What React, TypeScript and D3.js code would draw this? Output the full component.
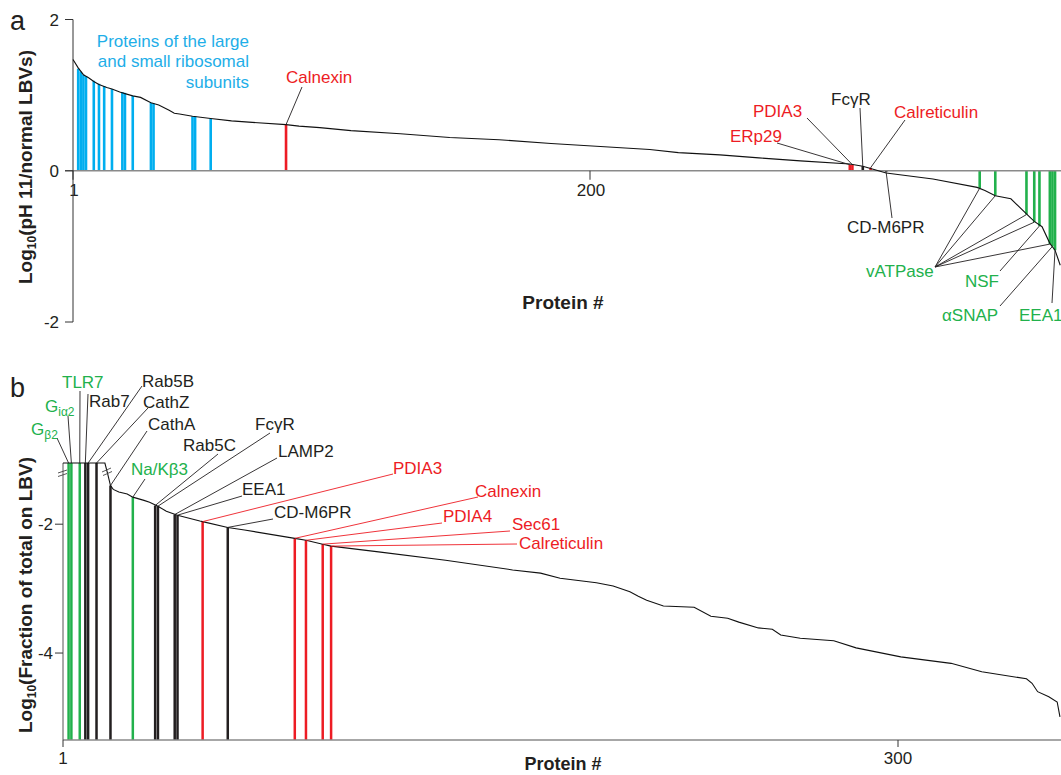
import React from "react";
import * as d3 from "d3";

// ---- panel a : log10(pH 11 / normal LBVs), proteins ranked ----
// [protein #, value]
const curveA: [number, number][] = [
  [1, 1.47], [3, 1.36], [5, 1.27], [7, 1.23], [9, 1.18], [11, 1.14], [14, 1.1],
  [16, 1.08], [19, 1.04], [21, 1.02], [24, 0.99], [27, 0.97], [31, 0.9], [34, 0.87],
  [38, 0.8], [40, 0.76], [42, 0.75], [47, 0.72], [54, 0.69], [62, 0.66], [70, 0.64],
  [83, 0.61], [88, 0.59], [96, 0.57], [108, 0.53], [127, 0.49], [146, 0.44],
  [165, 0.41], [185, 0.36], [204, 0.32], [223, 0.28], [234, 0.24], [250, 0.21],
  [265, 0.17], [281, 0.13], [300, 0.09], [305, 0.06], [309, 0.02], [314, -0.03],
  [332, -0.11], [349, -0.22], [352, -0.26], [356, -0.33], [362, -0.37], [368, -0.57],
  [371, -0.67], [374, -0.74], [377, -0.96], [379, -1.05], [381, -1.25],
];

const riboIdx = [3, 4, 5, 6, 9, 11, 13, 16, 20, 21, 24, 31, 32, 47, 48, 54];
const riboVal = [1.35, 1.31, 1.27, 1.25, 1.19, 1.15, 1.12, 1.08, 1.04, 1.03, 0.99, 0.9, 0.89, 0.72, 0.72, 0.69];

const markedA = [
  { name: "Calnexin", i: 83, v: 0.61, c: "red" },
  { name: "ERp29", i: 300, v: 0.08, c: "red" },
  { name: "PDIA3", i: 301, v: 0.08, c: "red" },
  { name: "FcγR", i: 305, v: 0.06, c: "black" },
  { name: "Calreticulin", i: 308, v: 0.04, c: "red" },
  { name: "CD-M6PR", i: 314, v: -0.02, c: "black" },
  { name: "vATPase", i: 350, v: -0.23, c: "green" },
  { name: "vATPase", i: 356, v: -0.33, c: "green" },
  { name: "vATPase", i: 368, v: -0.58, c: "green" },
  { name: "vATPase", i: 371, v: -0.68, c: "green" },
  { name: "NSF", i: 373, v: -0.73, c: "green" },
  { name: "vATPase", i: 377, v: -0.97, c: "green" },
  { name: "αSNAP", i: 378, v: -1.0, c: "green" },
  { name: "EEA1", i: 379, v: -1.05, c: "green" },
];

const yTicksA = [-2, 0, 2];
const xTicksA = [1, 200];

// ---- panel b : log10(fraction of total on LBV) ----
// first proteins are above the axis break (-1.05)
const curveB: [number, number][] = [
  [1, -1.05], [16, -1.05], [17, -1.22], [18, -1.4], [19, -1.46], [21, -1.5], [24, -1.53],
  [26, -1.58], [30, -1.63], [32, -1.66], [35, -1.72], [38, -1.8], [42, -1.86], [50, -1.95],
  [51, -1.96], [60, -2.05], [66, -2.09], [84, -2.22], [88, -2.25], [94, -2.31], [97, -2.34],
  [114, -2.43], [138, -2.56], [162, -2.71], [172, -2.76], [179, -2.84], [192, -2.91],
  [198, -2.96], [204, -3.05], [207, -3.12], [210, -3.18], [216, -3.27], [227, -3.29],
  [233, -3.43], [239, -3.46], [243, -3.52], [250, -3.61], [255, -3.63], [258, -3.72],
  [265, -3.77], [277, -3.81], [285, -3.92], [301, -4.06], [319, -4.16], [330, -4.29],
  [346, -4.4], [348, -4.47], [350, -4.6], [354, -4.68], [357, -4.76], [358, -4.99],
];

const markedB = [
  { name: "Gβ2", i: 3, v: -1.05, c: "green" },
  { name: "Giα2", i: 4, v: -1.05, c: "green" },
  { name: "TLR7", i: 7, v: -1.05, c: "green" },
  { name: "Rab7", i: 9, v: -1.05, c: "black" },
  { name: "Rab5B", i: 10, v: -1.05, c: "black" },
  { name: "CathZ", i: 13, v: -1.05, c: "black" },
  { name: "CathA", i: 18, v: -1.4, c: "black" },
  { name: "Na/Kβ3", i: 26, v: -1.58, c: "green" },
  { name: "Rab5C", i: 34, v: -1.71, c: "black" },
  { name: "FcγR", i: 35, v: -1.72, c: "black" },
  { name: "LAMP2", i: 41, v: -1.85, c: "black" },
  { name: "EEA1", i: 42, v: -1.86, c: "black" },
  { name: "PDIA3", i: 51, v: -1.96, c: "red" },
  { name: "CD-M6PR", i: 60, v: -2.05, c: "black" },
  { name: "Calnexin", i: 84, v: -2.22, c: "red" },
  { name: "PDIA4", i: 88, v: -2.25, c: "red" },
  { name: "Sec61", i: 94, v: -2.31, c: "red" },
  { name: "Calreticulin", i: 97, v: -2.34, c: "red" },
];

const yTicksB = [-4, -2];
const xTicksB = [1, 300];

// ---- styling / layout ----
const COL: Record<string, string> = {
  red: "#ed1c24",
  green: "#22b14c",
  black: "#231f20",
  blue: "#00aeef",
};
const FONT = "'Liberation Sans', Arial, Helvetica, sans-serif";

// label text position (x, y baseline) and where its leader starts
const labA: Record<string, { x: number; y: number; lx: number; ly: number }> = {
  Calnexin: { x: 286, y: 83, lx: 302, ly: 87 },
  ERp29: { x: 730, y: 141.5, lx: 777, ly: 143 },
  PDIA3: { x: 753, y: 117, lx: 807, ly: 118 },
  "FcγR": { x: 831, y: 105, lx: 860, ly: 108 },
  Calreticulin: { x: 894, y: 118, lx: 905, ly: 120 },
  "CD-M6PR": { x: 847, y: 233, lx: 892, ly: 218 },
  vATPase: { x: 866, y: 277, lx: 935, ly: 267 },
  NSF: { x: 965, y: 287, lx: 1000, ly: 271 },
  "αSNAP": { x: 942, y: 321, lx: 1000, ly: 306 },
  EEA1: { x: 1019, y: 321, lx: 1052, ly: 303 },
};

const labB: Record<string, { x: number; y: number; lx: number; ly: number }> = {
  "Gβ2": { x: 31, y: 435, lx: 57, ly: 438 },
  "Giα2": { x: 45, y: 412, lx: 68, ly: 416 },
  TLR7: { x: 62, y: 388, lx: 80, ly: 391 },
  Rab7: { x: 89, y: 407, lx: 88, ly: 394 },
  Rab5B: { x: 142, y: 387, lx: 142, ly: 386 },
  CathZ: { x: 143, y: 408, lx: 148, ly: 408 },
  CathA: { x: 148, y: 430, lx: 147, ly: 431 },
  "Na/Kβ3": { x: 131, y: 475, lx: 145, ly: 479 },
  Rab5C: { x: 183, y: 451, lx: 218, ly: 454 },
  "FcγR": { x: 255, y: 430, lx: 270, ly: 433 },
  LAMP2: { x: 278, y: 457, lx: 277, ly: 458 },
  EEA1: { x: 242, y: 495, lx: 242, ly: 496 },
  "CD-M6PR": { x: 274, y: 518, lx: 273, ly: 519 },
  PDIA3: { x: 393, y: 474, lx: 393, ly: 474 },
  Calnexin: { x: 475, y: 497, lx: 478, ly: 497 },
  PDIA4: { x: 443, y: 522, lx: 442, ly: 523 },
  Sec61: { x: 512, y: 530, lx: 510, ly: 531 },
  Calreticulin: { x: 519, y: 549, lx: 517, ly: 544 },
};

const xA = d3.scaleLinear().domain([1, 200]).range([73, 590]);
const yA = d3.scaleLinear().domain([-2, 2]).range([322, 19.5]);
const xB = d3.scaleLinear().domain([1, 300]).range([63, 898]);
const yB = d3.scaleLinear().domain([-5.35, -1.05]).range([740, 463]).clamp(true);

function Name({ name }: { name: string }) {
  // G-protein subunits get subscripts
  if (name === "Gβ2" || name === "Giα2") {
    return (
      <>
        G
        <tspan fontSize={12} dy={4}>
          {name.slice(1)}
        </tspan>
      </>
    );
  }
  return <>{name}</>;
}

export default function App() {
  const lineA = d3
    .line<[number, number]>()
    .x((d) => xA(d[0]))
    .y((d) => yA(d[1]));
  const lineB = d3
    .line<[number, number]>()
    .x((d) => xB(d[0]))
    .y((d) => yB(d[1]));

  const bwA = xA(2) - xA(1);
  const bwB = 2.5;
  const y0 = yA(0);

  const seenA = new Set<string>();
  const seenB = new Set<string>();

  return (
    <svg
      width={1061}
      height={775}
      style={{ position: "absolute", left: 0, top: 0 }}
      fontFamily={FONT}
    >
      <rect width={1061} height={775} fill="#fff" />

      {/* ================= panel a ================= */}
      <text x={10} y={30} fontSize={27} fill="#231f20">a</text>

      {riboIdx.map((i, k) => {
        const yv = yA(riboVal[k]);
        return (
          <rect key={"r" + i} x={xA(i) - bwA / 2} y={yv} width={bwA} height={y0 - yv} fill={COL.blue} />
        );
      })}
      {markedA.map((m) => {
        const yv = yA(m.v);
        return (
          <rect
            key={"ma" + m.i}
            x={xA(m.i) - bwA / 2}
            y={Math.min(yv, y0)}
            width={bwA}
            height={Math.abs(y0 - yv)}
            fill={COL[m.c]}
          />
        );
      })}

      {/* zero line / x axis */}
      <line x1={65} x2={1061} y1={y0} y2={y0} stroke="#8a8a8a" strokeWidth={1.6} />
      {xTicksA.map((t) => (
        <g key={"xa" + t}>
          <line x1={xA(t)} x2={xA(t)} y1={y0} y2={y0 + 9} stroke="#333" strokeWidth={1} />
          <text x={xA(t) + 1} y={196} fontSize={17} textAnchor="middle" fill="#231f20">{t}</text>
        </g>
      ))}
      {/* y axis */}
      <line x1={73} x2={73} y1={yA(2)} y2={yA(-2)} stroke="#333" strokeWidth={1} />
      {yTicksA.map((t) => (
        <g key={"ya" + t}>
          <line x1={65} x2={73} y1={yA(t)} y2={yA(t)} stroke="#333" strokeWidth={1} />
          <text x={59} y={yA(t) + 6} fontSize={17} textAnchor="end" fill="#231f20">{t}</text>
        </g>
      ))}

      <path d={lineA(curveA) || ""} fill="none" stroke="#111" strokeWidth={1.1} />

      {/* ribosomal label */}
      <text fontSize={17} fill="#1eaee8" textAnchor="end">
        <tspan x={249} y={46.5}>Proteins of the large</tspan>
        <tspan x={249} y={67}>and small ribosomal</tspan>
        <tspan x={249} y={87.5}>subunits</tspan>
      </text>

      {/* leaders and labels */}
      {markedA.map((m, k) => {
        const p = labA[m.name];
        return (
          <line
            key={"la" + k}
            x1={p.lx}
            y1={p.ly}
            x2={xA(m.i)}
            y2={yA(m.v)}
            stroke="#231f20"
            strokeWidth={0.9}
          />
        );
      })}
      {markedA.map((m) => {
        if (seenA.has(m.name)) return null;
        seenA.add(m.name);
        const p = labA[m.name];
        return (
          <text key={"ta" + m.name} x={p.x} y={p.y} fontSize={17} fill={COL[m.c]}>
            {m.name}
          </text>
        );
      })}

      <text x={563} y={309} fontSize={19} fontWeight="bold" textAnchor="middle" fill="#231f20">
        Protein #
      </text>
      <text transform="translate(32,167) rotate(-90)" fontSize={19} fontWeight="bold" textAnchor="middle" fill="#231f20">
        Log<tspan fontSize={12} dy={4}>10</tspan>
        <tspan dy={-4}>(pH 11/normal LBVs)</tspan>
      </text>

      {/* ================= panel b ================= */}
      <text x={10} y={397} fontSize={27} fill="#231f20">b</text>

      {markedB.map((m) => {
        const yv = yB(m.v);
        return (
          <rect key={"mb" + m.i} x={xB(m.i) - bwB / 2} y={yv} width={bwB} height={740 - yv} fill={COL[m.c]} />
        );
      })}

      <line x1={63} x2={1061} y1={740} y2={740} stroke="#8a8a8a" strokeWidth={1.6} />
      {xTicksB.map((t) => (
        <g key={"xb" + t}>
          <line x1={xB(t)} x2={xB(t)} y1={740} y2={747} stroke="#333" strokeWidth={1} />
          <text x={xB(t)} y={764} fontSize={17} textAnchor="middle" fill="#231f20">{t}</text>
        </g>
      ))}
      <line x1={63} x2={63} y1={463} y2={740} stroke="#555" strokeWidth={1} />
      {yTicksB.map((t) => (
        <g key={"yb" + t}>
          <line x1={55} x2={63} y1={yB(t)} y2={yB(t)} stroke="#333" strokeWidth={1} />
          <text x={53} y={yB(t) + 6} fontSize={17} textAnchor="end" fill="#231f20">{t}</text>
        </g>
      ))}

      <path d={lineB(curveB) || ""} fill="none" stroke="#111" strokeWidth={1.1} />

      {/* axis break marks */}
      <g stroke="#444" strokeWidth={0.9}>
        <line x1={58} y1={473} x2={67} y2={470} />
        <line x1={58} y1={476.5} x2={67} y2={473.5} />
        <line x1={102} y1={472} x2={111} y2={468} />
        <line x1={103} y1={475.5} x2={112} y2={471.5} />
      </g>

      {markedB.map((m, k) => {
        const p = labB[m.name];
        return (
          <line
            key={"lb" + k}
            x1={p.lx}
            y1={p.ly}
            x2={xB(m.i)}
            y2={yB(m.v)}
            stroke={m.c === "red" ? COL.red : "#231f20"}
            strokeWidth={0.9}
          />
        );
      })}
      {markedB.map((m) => {
        if (seenB.has(m.name)) return null;
        seenB.add(m.name);
        const p = labB[m.name];
        return (
          <text key={"tb" + m.name} x={p.x} y={p.y} fontSize={17} fill={COL[m.c]}>
            <Name name={m.name} />
          </text>
        );
      })}

      <text x={563} y={770} fontSize={18} fontWeight="bold" textAnchor="middle" fill="#231f20">
        Protein #
      </text>
      <text transform="translate(32,595) rotate(-90)" fontSize={19} fontWeight="bold" textAnchor="middle" fill="#231f20">
        Log<tspan fontSize={12} dy={4}>10</tspan>
        <tspan dy={-4}>(Fraction of total on LBV)</tspan>
      </text>
    </svg>
  );
}
